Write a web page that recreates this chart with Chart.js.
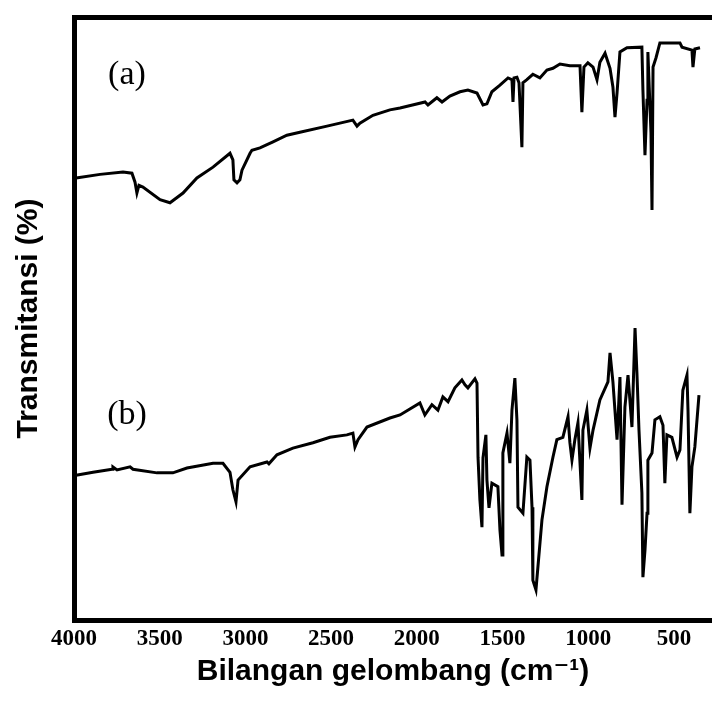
<!DOCTYPE html>
<html><head><meta charset="utf-8">
<script src="https://cdn.jsdelivr.net/npm/chart.js@4/dist/chart.umd.min.js"></script>
<style>html,body{margin:0;padding:0;background:#fff;overflow:hidden}</style>
</head><body><canvas id="c" width="712" height="701"></canvas>
<script>
// Tick labels of the wavenumber axis (cm-1)
const xTicks = [4000, 3500, 3000, 2500, 2000, 1500, 1000, 500];
const seriesNames = ['(a)', '(b)'];

// Spectrum (a): wavenumber (cm-1) and transmittance (arbitrary %, offset)
const wnA = [3988,3848,3714,3662,3644,3633,3621,3598,3498,3440,3364,3283,3189,3090,3073,3067,3049,3032,3020,2973,2962,2915,2839,2758,2682,2524,2373,2349,2332,2256,2157,2098,1952,1935,1883,1853,1807,1748,1702,1649,1614,1591,1562,1515,1468,1445,1439,1433,1416,1404,1387,1381,1358,1323,1282,1241,1206,1165,1107,1048,1037,1025,1002,972,949,932,902,873,856,844,832,815,774,687,681,669,657,652,634,628,622,605,582,465,453,395,389,378,348];
const trA = [73.3,73.9,74.3,74.1,72.6,70.8,72.1,71.8,69.7,69.2,70.8,73.3,75.1,77.4,76.3,73.0,72.5,73.0,74.6,77.4,77.9,78.3,79.3,80.4,80.9,81.9,82.9,81.9,82.4,83.7,84.6,84.9,85.9,85.4,86.6,85.9,86.9,87.6,87.9,87.4,85.4,85.6,87.6,88.7,89.9,89.6,85.9,89.9,90.0,89.1,78.4,89.1,89.6,90.5,89.9,91.2,91.5,92.2,91.9,91.9,84.2,91.7,92.4,91.7,89.6,92.5,94.0,91.5,88.4,83.4,87.4,94.2,94.9,95.0,87.9,77.1,86.2,94.2,80.8,68.0,91.7,93.2,95.7,95.7,95.0,94.5,91.7,94.7,94.9];

// Spectrum (b)
const wnB = [3988,3889,3778,3773,3749,3673,3656,3516,3423,3341,3189,3131,3090,3073,3055,3043,2973,2874,2863,2816,2723,2606,2507,2408,2373,2361,2343,2291,2157,2098,1982,1953,1912,1877,1848,1818,1778,1737,1719,1702,1661,1649,1643,1632,1620,1614,1597,1591,1579,1562,1527,1515,1503,1498,1474,1457,1445,1428,1416,1410,1381,1358,1340,1328,1323,1305,1270,1241,1206,1183,1148,1118,1107,1095,1078,1060,1037,1031,1008,990,972,932,885,873,856,832,815,803,786,768,745,727,716,704,687,681,669,657,652,628,611,582,564,553,541,512,482,465,448,424,418,407,395,378,354];
const trB = [24.0,24.5,25.0,25.4,24.9,25.4,25.0,24.4,24.4,25.2,26.0,26.0,24.5,21.6,19.6,23.2,25.4,26.2,25.9,27.4,28.5,29.4,30.3,30.7,31.0,28.7,29.9,32.0,33.5,34.0,36.0,34.0,35.7,34.8,37.0,36.2,38.5,39.8,39.0,38.5,40.0,39.3,27.0,19.9,15.4,26.9,30.7,23.2,18.6,22.7,22.1,14.9,10.8,27.7,31.0,26.0,34.8,40.1,33.2,18.7,17.7,27.0,26.5,18.7,6.6,5.0,16.6,22.1,27.0,29.9,30.3,33.7,29.4,26.5,29.9,32.7,19.9,31.5,34.8,28.5,31.5,36.5,39.5,44.3,39.5,29.9,40.3,19.1,35.3,40.6,32.0,48.4,41.0,31.5,21.1,7.1,11.6,17.7,26.5,27.7,33.2,33.7,32.3,22.7,30.7,30.3,27.0,28.2,38.1,40.6,34.8,17.7,25.4,28.7,37.3];

const toPts = (xs, ys) => xs.map((x, i) => ({x: x, y: ys[i]}));

const seriesTags = {
  id: 'seriesTags',
  afterDatasetsDraw(chart, args, opts) {
    const ctx = chart.ctx, xs = chart.scales.x, ys = chart.scales.y;
    ctx.save();
    ctx.fillStyle = '#000';
    ctx.font = opts.font;
    ctx.textAlign = 'center';
    ctx.textBaseline = 'middle';
    opts.items.forEach(it => {
      ctx.fillText(it.text, xs.getPixelForValue(it.x), ys.getPixelForValue(it.y));
    });
    ctx.restore();
  }
};

const lineStyle = {borderColor: '#000', borderWidth: 3, pointRadius: 0, tension: 0, fill: false, borderJoinStyle: 'miter'};

new Chart(document.getElementById('c'), {
  type: 'line',
  data: {
    datasets: [
      Object.assign({label: seriesNames[0], data: toPts(wnA, trA)}, lineStyle),
      Object.assign({label: seriesNames[1], data: toPts(wnB, trB)}, lineStyle)
    ]
  },
  plugins: [seriesTags],
  options: {
    responsive: false,
    animation: false,
    devicePixelRatio: 1,
    layout: {padding: {top: 17, left: 0, right: 0, bottom: 0}},
    plugins: {
      legend: {display: false},
      tooltip: {enabled: false},
      seriesTags: {
        font: '34px "Liberation Serif", "Times New Roman", serif',
        items: [
          {text: seriesNames[0], x: 3691, y: 90.4},
          {text: seriesNames[1], x: 3691, y: 34.0}
        ]
      }
    },
    scales: {
      x: {
        type: 'linear', position: 'bottom', reverse: true, min: 278, max: 4000,
        afterBuildTicks: s => { s.ticks = xTicks.map(v => ({value: v})); },
        afterFit: s => { s.height = 81; },
        ticks: {color: '#000', autoSkip: false, maxRotation: 0, padding: 5,
          callback: v => String(v),
          font: {family: '"Liberation Serif", "Times New Roman", serif', size: 23, weight: 'bold'}},
        grid: {display: false, drawTicks: false},
        border: {display: true, color: '#000', width: 5},
        title: {display: true, text: 'Bilangan gelombang (cm⁻¹)', color: '#000',
          padding: {top: 0, bottom: 11},
          font: {family: '"Liberation Sans", Arial, "DejaVu Sans", sans-serif', size: 30, weight: 'bold'}}
      },
      xTop: {
        type: 'linear', position: 'top', axis: 'x', reverse: true, min: 278, max: 4000,
        afterFit: s => { s.height = 0; },
        ticks: {display: false},
        grid: {display: false, drawTicks: false},
        border: {display: true, color: '#000', width: 5}
      },
      y: {
        type: 'linear', position: 'left', min: 0, max: 100,
        afterFit: s => { s.width = 74; },
        ticks: {display: false},
        grid: {display: false, drawTicks: false},
        border: {display: true, color: '#000', width: 5},
        title: {display: true, text: 'Transmitansi (%)', color: '#000',
          padding: {top: 11, bottom: 0},
          font: {family: '"Liberation Sans", Arial, "DejaVu Sans", sans-serif', size: 30, weight: 'bold'}}
      }
    }
  }
});
</script>
</body></html>
